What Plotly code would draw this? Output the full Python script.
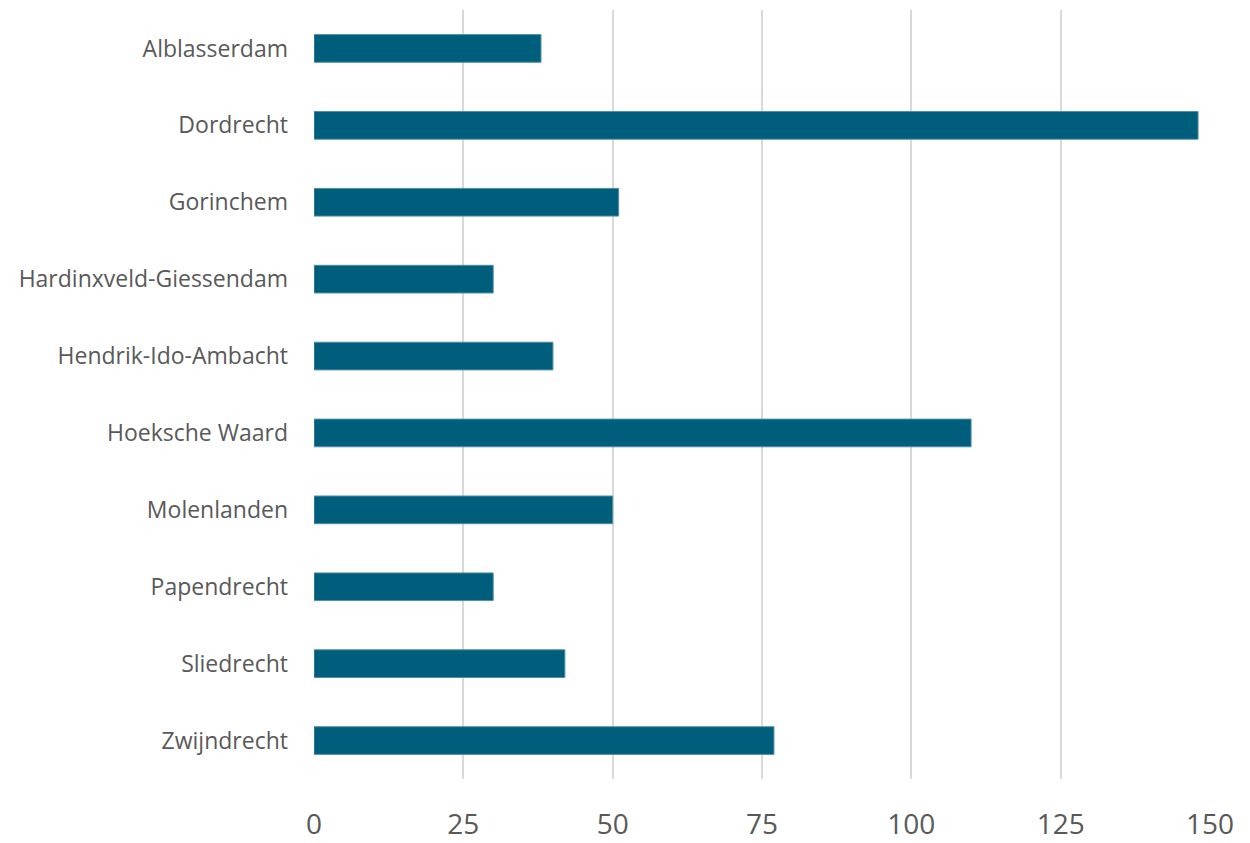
import plotly.graph_objects as go

categories = ["Alblasserdam", "Dordrecht", "Gorinchem", "Hardinxveld-Giessendam",
              "Hendrik-Ido-Ambacht", "Hoeksche Waard", "Molenlanden", "Papendrecht",
              "Sliedrecht", "Zwijndrecht"]
values = [38, 148, 51, 30, 40, 110, 50, 30, 42, 77]
x_ticks = [0, 25, 50, 75, 100, 125, 150]

fig = go.Figure(go.Bar(
    x=values, y=categories, orientation="h",
    marker=dict(color="#005E7D", line=dict(color="#4F8FA6", width=1)),
    width=0.36,
))

fig.update_layout(
    width=1250, height=843,
    margin=dict(l=306, r=48, t=2, b=72),
    paper_bgcolor="white", plot_bgcolor="white",
    font=dict(family="Open Sans", color="#595959"),
    showlegend=False,
    xaxis=dict(range=[0, 150], tickvals=x_ticks, showgrid=True, gridcolor="#D9D9D9",
               gridwidth=2, zeroline=False, showline=False, ticks="",
               tickfont=dict(size=28), ticklabelstandoff=26),
    yaxis=dict(categoryorder="array", categoryarray=categories, autorange="reversed",
               showgrid=False, zeroline=False, showline=False, ticks="",
               tickfont=dict(size=23), ticklabelstandoff=25),
)

fig.write_html("out.html")
